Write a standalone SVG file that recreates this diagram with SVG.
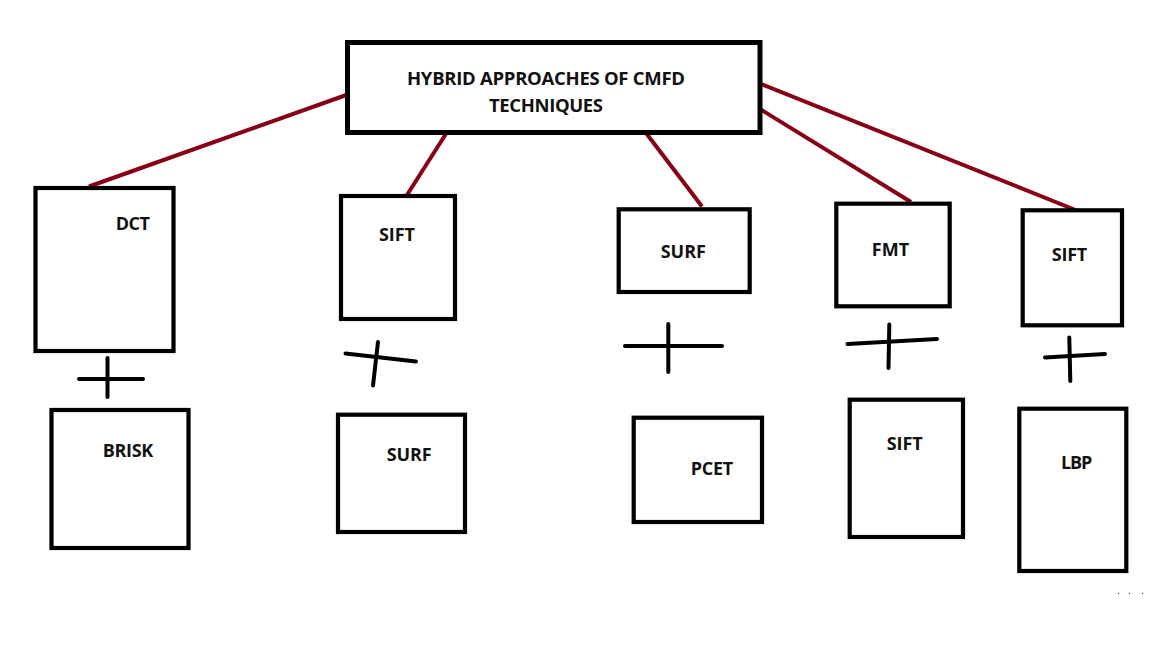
<svg xmlns="http://www.w3.org/2000/svg" width="1152" height="648" viewBox="0 0 1152 648">
<style>
.box{fill:#fff;stroke:#000;stroke-width:4.2}
.top{stroke-width:5}
.lbl{font-family:"Open Sans","DejaVu Sans",sans-serif;font-weight:bold;font-size:18px;fill:#111}
.ttl{font-size:18.5px}
.conn{stroke:#880015;stroke-width:4;stroke-linecap:butt;fill:none}
.plus{stroke:#000;stroke-width:4;stroke-linecap:round;fill:none}
</style>
<rect width="1152" height="648" fill="#fff"/>
<g id="connectors">
<line class="conn" x1="350.5" y1="93.5" x2="89" y2="186.5"/>
<line class="conn" x1="446.5" y1="133" x2="406" y2="196.5"/>
<line class="conn" x1="646" y1="133" x2="702" y2="206.5"/>
<line class="conn" x1="760" y1="109" x2="911" y2="202"/>
<line class="conn" x1="757.5" y1="82.5" x2="1078" y2="211"/>
</g>
<g id="root">
<rect class="box top" x="347.5" y="42.5" width="412.5" height="90"/>
<text class="lbl ttl" x="407" y="85" textLength="278">HYBRID APPROACHES OF CMFD</text>
<text class="lbl ttl" x="489" y="112" textLength="114">TECHNIQUES</text>
</g>
<g id="dct">
<rect class="box" x="35.5" y="188" width="138" height="163"/>
<text class="lbl" x="115.7" y="230" textLength="34.3">DCT</text>
</g>
<g id="plus1">
<line class="plus" x1="79" y1="379" x2="143" y2="379"/>
<line class="plus" x1="107.5" y1="358" x2="107.5" y2="397"/>
</g>
<g id="brisk">
<rect class="box" x="51.5" y="410" width="137" height="138"/>
<text class="lbl" x="102.7" y="456.5" textLength="50.6">BRISK</text>
</g>
<g id="sift1">
<rect class="box" x="341" y="196" width="114" height="123"/>
<text class="lbl" x="379" y="241" textLength="36">SIFT</text>
</g>
<g id="plus2">
<line class="plus" x1="345.5" y1="353.5" x2="416" y2="361.5"/>
<line class="plus" x1="378" y1="342" x2="373" y2="385.5"/>
</g>
<g id="surf2">
<rect class="box" x="338" y="414.7" width="127" height="117.3"/>
<text class="lbl" x="386.7" y="461" textLength="45">SURF</text>
</g>
<g id="surf1">
<rect class="box" x="618.7" y="209.3" width="131" height="82.7"/>
<text class="lbl" x="660.7" y="257.7" textLength="45.3">SURF</text>
</g>
<g id="plus3">
<line class="plus" x1="625" y1="346" x2="722" y2="346"/>
<line class="plus" x1="668.3" y1="324" x2="668.3" y2="372"/>
</g>
<g id="pcet">
<rect class="box" x="633.7" y="417.7" width="128.3" height="104.3"/>
<text class="lbl" x="690.7" y="475" textLength="42.6">PCET</text>
</g>
<g id="fmt">
<rect class="box" x="836.3" y="203.7" width="113.4" height="102.6"/>
<text class="lbl" x="871.7" y="255.7" textLength="37.6">FMT</text>
</g>
<g id="plus4">
<line class="plus" x1="847.5" y1="344" x2="937" y2="339"/>
<line class="plus" x1="889.3" y1="324.5" x2="888.5" y2="368"/>
</g>
<g id="sift2">
<rect class="box" x="849.7" y="399.7" width="113.3" height="137.3"/>
<text class="lbl" x="886.7" y="450" textLength="36">SIFT</text>
</g>
<g id="sift3">
<rect class="box" x="1022.7" y="210.3" width="99.3" height="115"/>
<text class="lbl" x="1051.7" y="260.7" textLength="35.6">SIFT</text>
</g>
<g id="plus5">
<line class="plus" x1="1045" y1="357.5" x2="1105" y2="354"/>
<line class="plus" x1="1069.3" y1="337.5" x2="1070.3" y2="381"/>
</g>
<g id="lbp">
<rect class="box" x="1019.3" y="408.7" width="107" height="162.3"/>
<text class="lbl" x="1061" y="469.3" textLength="31.3">LBP</text>
</g>
<g id="dots" fill="#880015">
<rect x="1118" y="593" width="1" height="1"/>
<rect x="1129" y="593" width="1" height="1"/>
<rect x="1142" y="593" width="1" height="1"/>
</g>
</svg>
